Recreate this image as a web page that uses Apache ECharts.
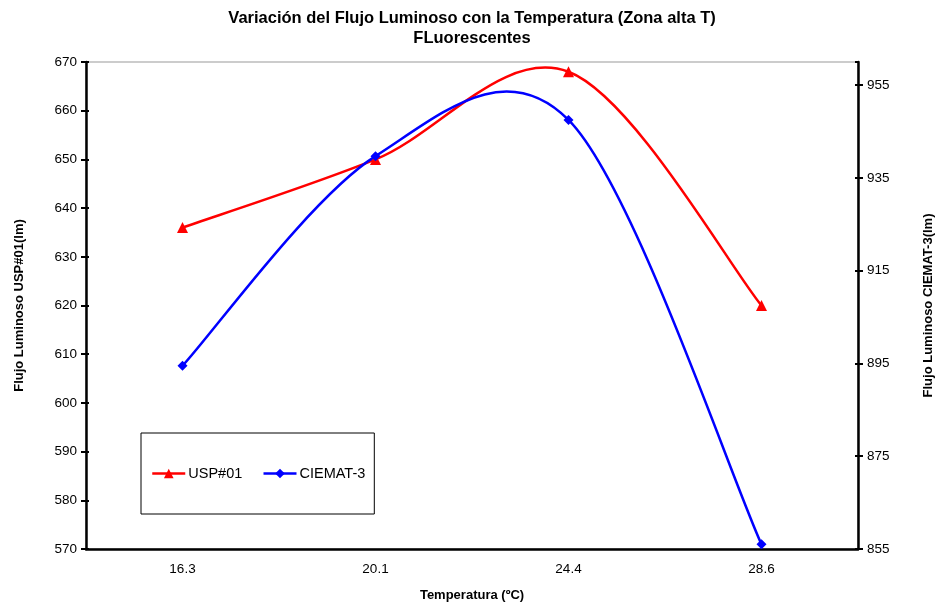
<!DOCTYPE html>
<html><head><meta charset="utf-8">
<script src="https://cdn.jsdelivr.net/npm/echarts@6/dist/echarts.min.js"></script>
<style>html,body{margin:0;padding:0;background:#fff}#c{width:935px;height:608px}</style>
</head><body><div id="c"></div>
<script>
var categories = ['16.3', '20.1', '24.4', '28.6'];
var usp01 = [636, 650, 668, 620];
var ciemat3 = [894.5, 939.7, 947.5, 856];
var leftTicks = {min: 570, max: 670, interval: 10};
var rightTicks = {min: 855, max: 960, interval: 20};

var F = '"Liberation Sans", Arial, sans-serif';
var RED = '#ff0000', BLUE = '#0000ff';

// Excel-like smoothed curve drawn through the axis scales (api.coord)
function curveRenderer(values, color) {
  return function (params, api) {
    if (params.dataIndex !== 0) return null;
    var p = values.map(function (v, i) { return api.coord([i, v]); });
    var n = p.length, kids = [];
    for (var i = 0; i < n - 1; i++) {
      var p0 = p[Math.max(i - 1, 0)], p1 = p[i], p2 = p[i + 1], p3 = p[Math.min(i + 2, n - 1)];
      kids.push({
        type: 'bezierCurve',
        shape: {
          x1: p1[0], y1: p1[1], x2: p2[0], y2: p2[1],
          cpx1: p1[0] + (p2[0] - p0[0]) / 6, cpy1: p1[1] + (p2[1] - p0[1]) / 6,
          cpx2: p2[0] - (p3[0] - p1[0]) / 6, cpy2: p2[1] - (p3[1] - p1[1]) / 6
        },
        style: {stroke: color, lineWidth: 2.5, fill: null}
      });
    }
    return {type: 'group', children: kids};
  };
}

var axisName = {fontFamily: F, fontSize: 13, fontWeight: 'bold', color: '#000'};
var lbl = {fontFamily: F, fontSize: 13.5, color: '#000'};

var chart = echarts.init(document.getElementById('c'));
chart.setOption({
  backgroundColor: '#fff',
  animation: false,
  title: {
    text: 'Variación del Flujo Luminoso con la Temperatura (Zona alta T)\nFLuorescentes',
    left: 467, textAlign: 'center', top: 3,
    textStyle: {fontFamily: F, fontSize: 16.5, fontWeight: 'bold', color: '#000', lineHeight: 20}
  },
  legend: {
    left: 141, top: 433,
    orient: 'horizontal',
    padding: [33, 9, 33, 10],
    backgroundColor: '#fff', borderColor: '#000', borderWidth: 1,
    itemWidth: 33, itemHeight: 12, itemGap: 20,
    lineStyle: {width: 2.5, opacity: 1},
    textStyle: {fontFamily: F, fontSize: 14.5, color: '#000', padding: [0, 0, 0, -2]},
    data: ['USP#01', 'CIEMAT-3']
  },
  grid: {left: 86, right: 77, top: 62, bottom: 59, show: true, borderColor: '#999', borderWidth: 1, outerBoundsMode: 'none', containLabel: false},
  xAxis: [{
    type: 'category', data: categories, boundaryGap: true,
    name: 'Temperatura (ºC)', nameLocation: 'middle', nameGap: 40,
    nameTextStyle: axisName,
    axisLine: {lineStyle: {color: '#000', width: 2.5}},
    axisTick: {length: 5, lineStyle: {color: '#000', width: 2}},
    axisLabel: Object.assign({margin: 13}, lbl),
    splitLine: {show: false}
  }, {
    type: 'category', data: categories, boundaryGap: true, position: 'bottom',
    axisLine: {show: false},
    axisTick: {inside: true, length: 4, lineStyle: {color: '#000', width: 2}},
    axisLabel: {show: false}, splitLine: {show: false}
  }],
  yAxis: [{
    type: 'value', position: 'left', min: leftTicks.min, max: leftTicks.max, interval: leftTicks.interval,
    name: 'Flujo Luminoso USP#01(lm)', nameLocation: 'middle', nameGap: 60, nameRotate: 90,
    nameTextStyle: axisName,
    axisLine: {show: true, lineStyle: {color: '#000', width: 2.5}},
    axisTick: {show: true, length: 5, lineStyle: {color: '#000', width: 2}},
    axisLabel: Object.assign({margin: 9}, lbl),
    splitLine: {show: false}
  }, {
    type: 'value', position: 'right', min: rightTicks.min, max: rightTicks.max, interval: rightTicks.interval,
    name: 'Flujo Luminoso CIEMAT-3(lm)', nameLocation: 'middle', nameGap: 64, nameRotate: 90,
    nameTextStyle: axisName,
    axisLine: {show: true, lineStyle: {color: '#000', width: 2.5}},
    axisTick: {show: true, length: 5, lineStyle: {color: '#000', width: 2}},
    axisLabel: Object.assign({margin: 9, showMaxLabel: false}, lbl),
    splitLine: {show: false}
  }, {
    type: 'value', position: 'left', min: leftTicks.min, max: leftTicks.max, interval: leftTicks.interval,
    axisLine: {show: false},
    axisTick: {show: true, inside: true, length: 3, lineStyle: {color: '#000', width: 2}},
    axisLabel: {show: false}, splitLine: {show: false}
  }, {
    type: 'value', position: 'right', min: rightTicks.min, max: rightTicks.max, interval: rightTicks.interval,
    axisLine: {show: false},
    axisTick: {show: true, inside: true, length: 3, lineStyle: {color: '#000', width: 2}},
    axisLabel: {show: false, showMaxLabel: false}, splitLine: {show: false}
  }],
  series: [{
    name: 'USP#01 curva', type: 'custom', yAxisIndex: 0, z: 2,
    data: usp01.map(function (v, i) { return [i, v]; }),
    encode: {x: 0, y: 1},
    renderItem: curveRenderer(usp01, RED)
  }, {
    name: 'CIEMAT-3 curva', type: 'custom', yAxisIndex: 1, z: 2,
    data: ciemat3.map(function (v, i) { return [i, v]; }),
    encode: {x: 0, y: 1},
    renderItem: curveRenderer(ciemat3, BLUE)
  }, {
    name: 'USP#01', type: 'line', yAxisIndex: 0, data: usp01, z: 3,
    symbol: 'triangle', symbolSize: 11,
    lineStyle: {color: RED, width: 2.5, opacity: 0}, itemStyle: {color: RED}
  }, {
    name: 'CIEMAT-3', type: 'line', yAxisIndex: 1, data: ciemat3, z: 3,
    symbol: 'diamond', symbolSize: 10,
    lineStyle: {color: BLUE, width: 2.5, opacity: 0}, itemStyle: {color: BLUE}
  }]
});
</script></body></html>
